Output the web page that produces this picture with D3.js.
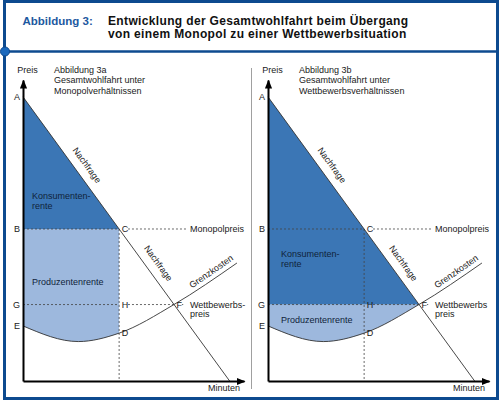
<!DOCTYPE html>
<html>
<head>
<meta charset="utf-8">
<script src="https://cdn.jsdelivr.net/npm/d3@7"></script>
<style>
body { margin: 0; background: #fff; }
svg { display: block; font-family: "Liberation Sans", Arial, sans-serif; }
</style>
</head>
<body>
<svg id="chart" width="500" height="401"></svg>
<script>
// values, price and quantity in relative units (0..100)
var figureLabel = "Abbildung 3:";
var titleLines = ["Entwicklung der Gesamtwohlfahrt beim Übergang", "von einem Monopol zu einer Wettbewerbsituation"];
var panelTitles = [
    ["Abbildung 3a", "Gesamtwohlfahrt unter", "Monopolverhältnissen"],
    ["Abbildung 3b", "Gesamtwohlfahrt unter", "Wettbewerbsverhältnissen"]
];
var competitionLabels = [["Wettbewerbs-", "preis"], ["Wettbewerbs", "preis"]];
var demand = [[0, 94.4], [93.5, 0]];
var marginalCost = [[0, 18.3], [25, 13.1], [43.5, 15.9], [68.3, 25.4], [96.8, 39.2]];
var monopolyQty = 43.5, monopolyPrice = 50.5;
var competitiveQty = 68.3, competitivePrice = 25.4;

var svg = d3.select("#chart");
var dark = "#3b76b5", light = "#9db8dd", frame = "#0d4a8f";

// frame and header
svg.append("rect")
    .attr("x", 4.5).attr("y", 1.5)
    .attr("width", 493).attr("height", 397)
    .attr("fill", "none")
    .attr("stroke", frame)
    .attr("stroke-width", 3);
svg.append("line")
    .attr("x1", 4.5).attr("x2", 497.5)
    .attr("y1", 51.5).attr("y2", 51.5)
    .attr("stroke", frame)
    .attr("stroke-width", 2.5);
svg.append("circle")
    .attr("cx", 5).attr("cy", 51.5).attr("r", 4.5)
    .attr("fill", "#1b69bd")
    .attr("stroke", frame)
    .attr("stroke-width", 1);

svg.append("text")
    .attr("x", 22.5).attr("y", 25)
    .attr("font-size", 11.5)
    .attr("font-weight", "bold")
    .attr("fill", "#1d58a0")
    .text(figureLabel);
svg.append("text")
    .attr("font-size", 12)
    .attr("font-weight", "bold")
    .attr("letter-spacing", 0.35)
    .attr("fill", "#111")
    .selectAll("tspan")
    .data(titleLines)
    .enter().append("tspan")
    .attr("x", 108)
    .attr("y", function (d, i) { return 25 + i * 12.5; })
    .text(function (d) { return d; });

// divider between the two panels
svg.append("line")
    .attr("x1", 251.5).attr("x2", 251.5)
    .attr("y1", 68).attr("y2", 389)
    .attr("stroke", "#888")
    .attr("stroke-width", 0.8);

var defs = svg.append("defs");
defs.append("marker")
    .attr("id", "arrow")
    .attr("viewBox", "-9 -4 9 8")
    .attr("refX", -1).attr("refY", 0)
    .attr("markerWidth", 9).attr("markerHeight", 8)
    .attr("markerUnits", "userSpaceOnUse")
    .attr("orient", "auto")
    .append("path")
    .attr("d", "M0,0L-9,-3.6L-9,3.6Z")
    .attr("fill", "#000");

function lerp(pts, q) {
    for (var i = 1; i < pts.length; i++) {
        if (q <= pts[i][0]) {
            var t = (q - pts[i - 1][0]) / (pts[i][0] - pts[i - 1][0]);
            return pts[i - 1][1] + t * (pts[i][1] - pts[i - 1][1]);
        }
    }
    return pts[pts.length - 1][1];
}

function panel(idx) {
    var ox = idx === 0 ? 23 : 268;
    var g = svg.append("g");

    var x = d3.scaleLinear().domain([0, 100]).range([ox, ox + 221]);
    var y = d3.scaleLinear().domain([0, 100]).range([381, 80]);

    var line = d3.line()
        .x(function (d) { return x(d[0]); })
        .y(function (d) { return y(d[1]); });

    // producer surplus: between marginal cost and the relevant price
    var topPrice = idx === 0 ? monopolyPrice : competitivePrice;
    var rightQty = idx === 0 ? monopolyQty : competitiveQty;
    defs.append("clipPath")
        .attr("id", "clip" + idx)
        .append("rect")
        .attr("x", x(0)).attr("y", y(100))
        .attr("width", x(rightQty) - x(0))
        .attr("height", y(0) - y(100));
    g.append("path")
        .datum(marginalCost)
        .attr("clip-path", "url(#clip" + idx + ")")
        .attr("fill", light)
        .attr("d", d3.area()
            .curve(d3.curveMonotoneX)
            .x(function (d) { return x(d[0]); })
            .y0(function (d) { return y(d[1]); })
            .y1(y(topPrice)));

    // consumer surplus: triangle under demand above the price
    g.append("path")
        .datum([demand[0], [0, topPrice], [rightQty, topPrice]])
        .attr("fill", dark)
        .attr("d", function (d) { return line(d) + "Z"; });

    // dashed guides (gaps left where the point letters sit)
    var dashed = [
        [[0, monopolyPrice], [monopolyQty, monopolyPrice]],
        [[monopolyQty + 4, monopolyPrice], [74.6, monopolyPrice]],
        [[0, competitivePrice], [monopolyQty, competitivePrice]],
        [[monopolyQty + 4, competitivePrice], [competitiveQty, competitivePrice]],
        [[competitiveQty + 3.6, competitivePrice], [72.5, competitivePrice]],
        [[monopolyQty, monopolyPrice], [monopolyQty, 0]]
    ];
    g.selectAll(".guide")
        .data(dashed)
        .enter().append("path")
        .attr("class", "guide")
        .attr("fill", "none")
        .attr("stroke", "#444")
        .attr("stroke-width", 0.8)
        .attr("stroke-dasharray", "2,2")
        .attr("d", line);

    // demand and marginal cost
    g.append("path")
        .datum(demand)
        .attr("fill", "none")
        .attr("stroke", "#333")
        .attr("stroke-width", 0.9)
        .attr("d", line);
    g.append("path")
        .datum(marginalCost)
        .attr("fill", "none")
        .attr("stroke", "#333")
        .attr("stroke-width", 0.9)
        .attr("d", d3.line()
            .curve(d3.curveMonotoneX)
            .x(function (d) { return x(d[0]); })
            .y(function (d) { return y(d[1]); }));

    // axes with arrow heads
    g.append("g")
        .attr("transform", "translate(0," + y(0) + ")")
        .call(d3.axisBottom(x).tickValues([]).tickSizeOuter(0))
        .select(".domain")
        .attr("stroke", "#000")
        .attr("stroke-width", 2)
        .attr("marker-end", "url(#arrow)");
    g.append("g")
        .attr("transform", "translate(" + x(0) + ",0)")
        .call(d3.axisLeft(y).tickValues([]).tickSizeOuter(0))
        .select(".domain")
        .attr("stroke", "#000")
        .attr("stroke-width", 2)
        .attr("marker-end", "url(#arrow)");

    var txt = g.append("g")
        .attr("font-size", 9)
        .attr("fill", "#1a1a1a");

    txt.append("text")
        .attr("x", ox + 4.5).attr("y", 72.5)
        .attr("text-anchor", "middle")
        .text("Preis");
    txt.append("text")
        .attr("x", ox + 217).attr("y", 391)
        .attr("text-anchor", "end")
        .text("Minuten");
    txt.append("text")
        .selectAll("tspan")
        .data(panelTitles[idx])
        .enter().append("tspan")
        .attr("x", ox + 31)
        .attr("y", function (d, i) { return 72.5 + i * 10.7; })
        .text(function (d) { return d; });

    // point letters
    var leftPts = [["A", demand[0][1]], ["B", monopolyPrice], ["G", competitivePrice], ["E", marginalCost[0][1]]];
    txt.selectAll(".lp")
        .data(leftPts)
        .enter().append("text")
        .attr("class", "lp")
        .attr("x", x(0) - 3)
        .attr("y", function (d) { return y(d[1]); })
        .attr("dy", "0.36em")
        .attr("text-anchor", "end")
        .text(function (d) { return d[0]; });
    var rightPts = [["C", monopolyQty, monopolyPrice], ["H", monopolyQty, competitivePrice],
        ["D", monopolyQty, marginalCost[2][1]], ["F", competitiveQty, competitivePrice]];
    txt.selectAll(".rp")
        .data(rightPts)
        .enter().append("text")
        .attr("class", "rp")
        .attr("x", function (d) { return x(d[1]) + 2.5; })
        .attr("y", function (d) { return y(d[2]); })
        .attr("dy", "0.36em")
        .text(function (d) { return d[0]; });

    txt.append("text")
        .attr("x", ox + 167).attr("y", y(monopolyPrice))
        .attr("dy", "0.36em")
        .text("Monopolpreis");
    txt.append("text")
        .selectAll("tspan")
        .data(competitionLabels[idx])
        .enter().append("tspan")
        .attr("x", ox + 167)
        .attr("y", function (d, i) { return y(competitivePrice) + 3.2 + i * 9.5; })
        .text(function (d) { return d; });

    var cx = idx === 0 ? ox + 9 : ox + 13;
    var csY = idx === 0 ? 199 : 257;
    txt.append("text")
        .selectAll("tspan")
        .data(["Konsumenten-", "rente"])
        .enter().append("tspan")
        .attr("x", cx)
        .attr("y", function (d, i) { return csY + i * 10.3; })
        .attr("fill", "#10233a")
        .text(function (d) { return d; });
    txt.append("text")
        .attr("x", cx).attr("y", idx === 0 ? 284.5 : 323)
        .attr("fill", "#10233a")
        .text("Produzentenrente");

    // rotated curve labels
    var dAngle = Math.atan2(y(demand[1][1]) - y(demand[0][1]), x(demand[1][0]) - x(demand[0][0])) * 180 / Math.PI;
    [24.7, 57].forEach(function (q) {
        txt.append("text")
            .attr("transform", "translate(" + x(q) + "," + y(lerp(demand, q)) + ") rotate(" + dAngle + ")")
            .attr("text-anchor", "middle")
            .attr("dy", -8.5)
            .text("Nachfrage");
    });
    var gq = 87;
    var seg = marginalCost.slice(-2);
    var gAngle = Math.atan2(y(seg[1][1]) - y(seg[0][1]), x(seg[1][0]) - x(seg[0][0])) * 180 / Math.PI;
    txt.append("text")
        .attr("transform", "translate(" + x(gq) + "," + y(lerp(marginalCost, gq)) + ") rotate(" + (gAngle - 1.5) + ")")
        .attr("text-anchor", "middle")
        .attr("dy", -4)
        .text("Grenzkosten");
}

panel(0);
panel(1);
</script>
</body>
</html>
